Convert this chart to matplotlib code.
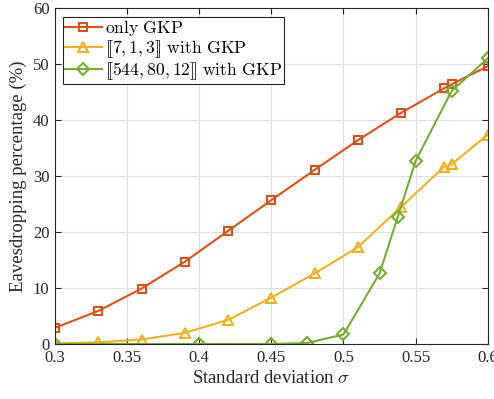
import numpy as np
import matplotlib.pyplot as plt

plt.rcParams['font.family'] = ['Liberation Serif', 'DejaVu Serif']
plt.rcParams['mathtext.fontset'] = 'cm'

# data
sigma_gkp = [0.3, 0.33, 0.36, 0.39, 0.42, 0.45, 0.48, 0.51, 0.54, 0.57, 0.575, 0.6]
only_gkp = [2.9, 5.9, 9.9, 14.7, 20.2, 25.7, 31.1, 36.4, 41.3, 45.7, 46.4, 49.6]

sigma_713 = [0.3, 0.33, 0.36, 0.39, 0.42, 0.45, 0.48, 0.51, 0.54, 0.57, 0.575, 0.6]
code_713 = [0.1, 0.3, 0.8, 2.0, 4.3, 8.3, 12.6, 17.3, 24.5, 31.7, 32.1, 37.4]

sigma_544 = [0.3, 0.4, 0.45, 0.475, 0.5, 0.525, 0.5375, 0.55, 0.575, 0.6]
code_544 = [0.0, 0.0, 0.0, 0.2, 1.7, 12.6, 22.6, 32.7, 45.2, 51.0]

labels = [r'$\mathrm{only\ GKP}$',
          r'$[\![7,1,3]\!]\ \mathrm{with\ GKP}$',
          r'$[\![544,80,12]\!]\ \mathrm{with\ GKP}$']
colors = ['#D95319', '#EDB120', '#77AC30']

fig = plt.figure(figsize=(4.94, 3.99), dpi=100)
ax = fig.add_axes([0.1113, 0.1378, 0.876, 0.842])

ax.plot(sigma_gkp, only_gkp, '-s', color=colors[0], lw=1.5, ms=6,
        mfc='none', mew=1.5, label=labels[0])
ax.plot(sigma_713, code_713, '-^', color=colors[1], lw=1.5, ms=7,
        mfc='none', mew=1.5, label=labels[1])
ax.plot(sigma_544, code_544, '-D', color=colors[2], lw=1.5, ms=6,
        mfc='none', mew=1.5, label=labels[2])

ax.set_xlim(0.3, 0.6)
ax.set_ylim(0, 60)
ax.set_xticks([0.3, 0.35, 0.4, 0.45, 0.5, 0.55, 0.6])
ax.set_xticklabels(['0.3', '0.35', '0.4', '0.45', '0.5', '0.55', '0.6'])
ax.set_yticks(range(0, 61, 10))
ax.tick_params(direction='in', top=True, right=True, labelsize=12,
               colors='#262626', length=4, width=0.8, pad=4)
for s in ax.spines.values():
    s.set_color('#262626')
    s.set_linewidth(0.8)
ax.grid(True, color='#DFDFDF', lw=0.8)
ax.set_axisbelow(True)

ax.set_xlabel(r'Standard deviation $\sigma$', fontsize=13.5, color='#262626', labelpad=3)
ax.set_ylabel('Eavesdropping percentage (%)', fontsize=13.5, color='#262626', labelpad=4)

leg = ax.legend(loc='upper left', bbox_to_anchor=(0.01, 0.985), fontsize=12.7,
                fancybox=False, framealpha=1, edgecolor='#262626',
                handlelength=2.1, handletextpad=0.2, borderpad=0.1,
                labelspacing=0.0, borderaxespad=0.2)
leg.get_frame().set_linewidth(0.8)

plt.savefig('out.png', dpi=100)
